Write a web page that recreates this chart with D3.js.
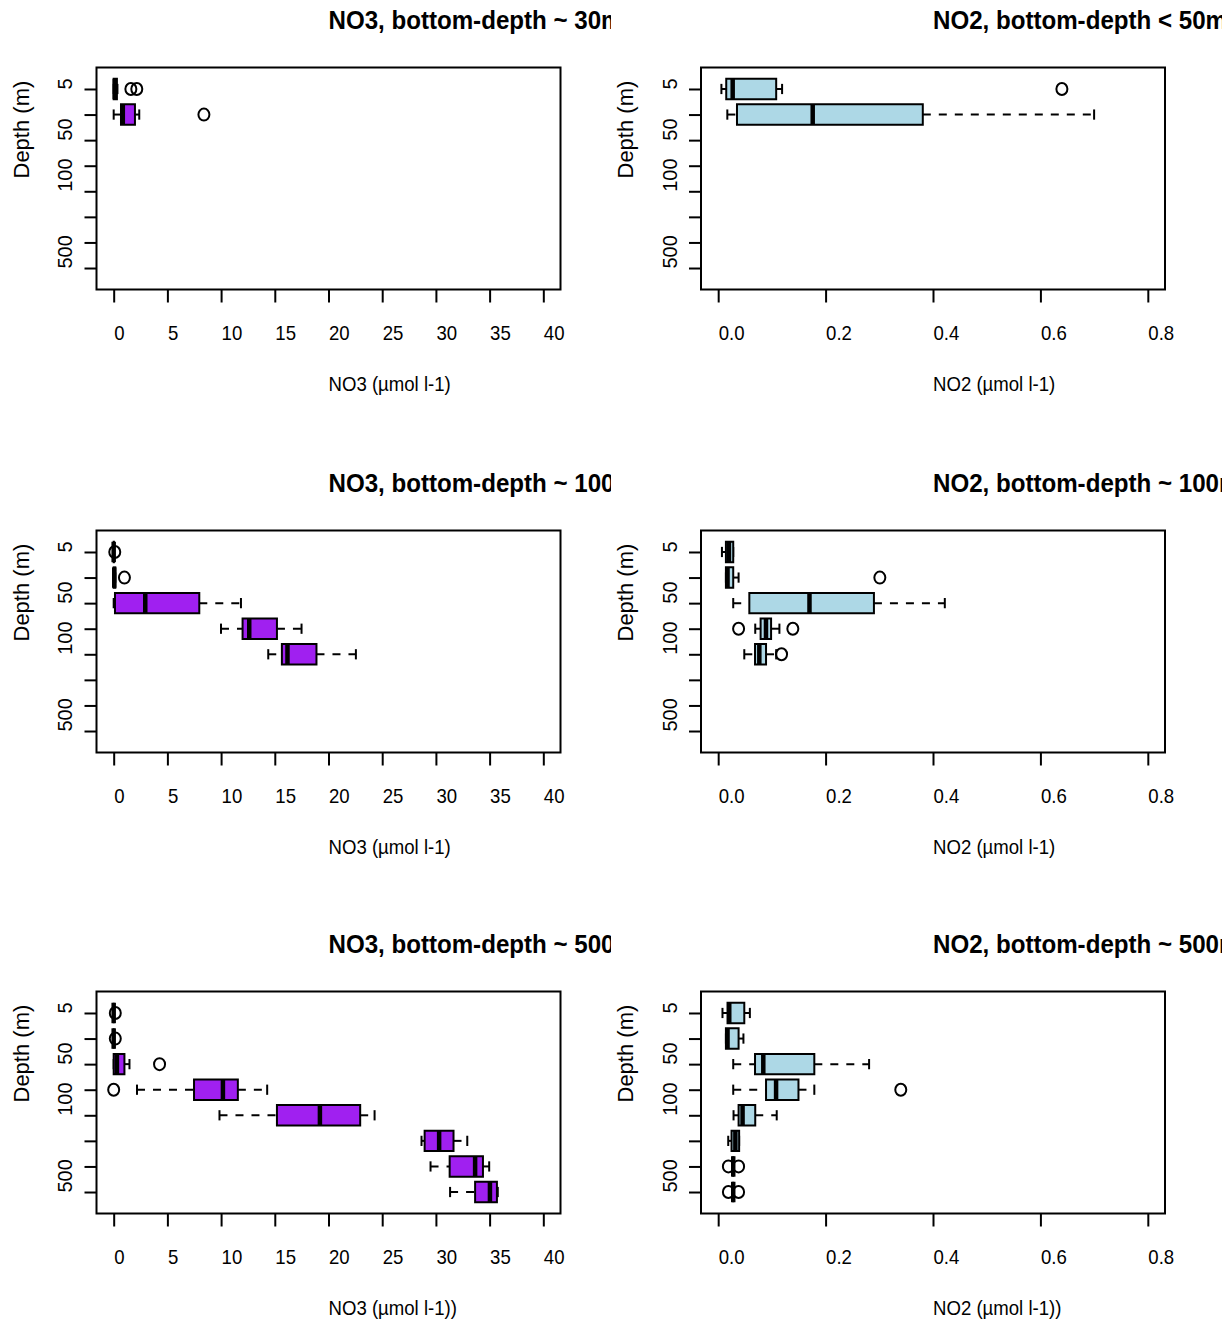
<!DOCTYPE html>
<html><head><meta charset="utf-8">
<script src="https://cdn.jsdelivr.net/npm/d3@7/dist/d3.min.js"></script>
<style>
html,body{margin:0;padding:0;background:#fff;}
text{font-family:"Liberation Sans",Arial,Helvetica,sans-serif;fill:#000;}
</style></head>
<body><svg id="c" width="1222" height="1320"></svg>
<script>
// ---------- data ----------
const depthPositions = [1,2,3,4,5,6,7,8];
const depthLabels = ["5","","50","","100","","","500"];
const no3Ticks = [0,5,10,15,20,25,30,35,40];
const no2Ticks = [0,0.2,0.4,0.6,0.8];
const no2TickLabels = ["0.0","0.2","0.4","0.6","0.8"];

// stats per depth group: [min, q1, median, q3, max]; null = no data
const no3_30 = [[0,0,0.1,0.3,0.35],[0,0.68,0.85,1.98,2.38],null,null,null,null,null,null];
const no3_30_out = [[1.6,2.15],[8.4],[],[],[],[],[],[]];
const no2_50 = [[0.006,0.015,0.027,0.108,0.119],[0.017,0.035,0.176,0.381,0.700],null,null,null,null,null,null];
const no2_50_out = [[0.64],[],[],[],[],[],[],[]];

const no3_100 = [[0,0,0,0.02,0.02],[0,0,0.05,0.15,0.15],[0,0.12,2.94,7.97,11.85],[9.99,12.0,12.62,15.2,17.49],[14.39,15.66,16.18,18.88,22.55],null,null,null];
const no3_100_out = [[0.1],[1.0],[],[],[],[],[],[]];
const no2_100 = [[0.007,0.0144,0.020,0.028,0.028],[0.0144,0.0144,0.0174,0.028,0.038],[0.028,0.058,0.170,0.290,0.422],[0.069,0.079,0.089,0.0985,0.114],[0.0486,0.0686,0.0766,0.0891,0.108],null,null,null];
const no2_100_out = [[],[0.301],[],[0.038,0.139],[0.118],[],[],[]];

const no3_500 = [[0,0,0,0,0],[0,0,0,0,0],[0,0,0.3,1.0,1.47],[2.17,7.48,10.17,11.56,14.29],[9.85,15.2,19.2,22.95,24.29],[28.66,28.95,30.3,31.64,32.92],[29.5,31.28,33.65,34.38,34.96],[31.32,33.65,35.03,35.68,35.76]];
const no3_500_out = [[0.15],[0.15],[4.27],[0],[],[],[],[]];
const no2_500 = [[0.008,0.0174,0.0206,0.0486,0.059],[0.0144,0.0144,0.0174,0.038,0.047],[0.028,0.0686,0.084,0.179,0.281],[0.028,0.0891,0.1078,0.1495,0.179],[0.0286,0.038,0.0454,0.069,0.109],[0.0187,0.0249,0.032,0.039,0.039],[0.028,0.028,0.028,0.028,0.028],[0.028,0.028,0.028,0.028,0.028]];
const no2_500_out = [[],[],[],[0.340],[],[],[0.019,0.038],[0.019,0.038]];

const titles = ["NO3, bottom-depth ~ 30m","NO2, bottom-depth < 50m","NO3, bottom-depth ~ 100m","NO2, bottom-depth ~ 100m","NO3, bottom-depth ~ 500m","NO2, bottom-depth ~ 500m"];
const xTitles = ["NO3 (µmol l-1)","NO2 (µmol l-1)","NO3 (µmol l-1)","NO2 (µmol l-1)","NO3 (µmol l-1))","NO2 (µmol l-1))"];
const no3Color = "#A020F0";
const no2Color = "#ADD8E6";

// ---------- layout ----------
const svg = d3.select("#c");
svg.append("rect").attr("width",1222).attr("height",1320).attr("fill","#fff");
svg.append("defs").append("clipPath").attr("id","leftclip")
  .append("rect").attr("x",0).attr("y",0).attr("width",611).attr("height",1320);

const colLeft = [96.5, 701];
const boxW = 464;
const rowTop = [67.5, 530.5, 991.5];
const boxH = 222;

const panels = [
  {stats:no3_30, out:no3_30_out, kind:"no3"},
  {stats:no2_50, out:no2_50_out, kind:"no2"},
  {stats:no3_100, out:no3_100_out, kind:"no3"},
  {stats:no2_100, out:no2_100_out, kind:"no2"},
  {stats:no3_500, out:no3_500_out, kind:"no3"},
  {stats:no2_500, out:no2_500_out, kind:"no2"}
];

panels.forEach((p,i)=>{
  const col = i%2, row = Math.floor(i/2);
  const L = colLeft[col], T = rowTop[row], R = L+boxW, B = T+boxH;
  const isNo3 = p.kind==="no3";
  const x = d3.scaleLinear().domain(isNo3?[-1.6,41.6]:[-0.032,0.832]).range([L,R]);
  const y = d3.scaleLinear().domain([0.16,8.84]).range([T,B]);
  const fill = isNo3?no3Color:no2Color;
  const g = svg.append("g");
  if(col===0) g.attr("clip-path","url(#leftclip)");

  // title (clipped at the column edge, as in the reference)
  g.append("text").attr("transform",`translate(${(L+R)/2},${T-38.5}) scale(0.965,1)`)
    .attr("font-size",25).attr("font-weight","bold").text(titles[i]);

  // x axis
  const xa = d3.axisBottom(x).tickValues(isNo3?no3Ticks:no2Ticks).tickSize(13).tickSizeOuter(0)
    .tickFormat((d,k)=> isNo3? String(d) : no2TickLabels[k]);
  const gx = g.append("g").attr("transform",`translate(0,${B})`).call(xa);
  gx.select(".domain").remove();
  gx.selectAll(".tick line").attr("stroke","#000").attr("stroke-width",2);
  gx.selectAll(".tick text").attr("y",50.5).attr("dy",null).attr("text-anchor","start")
    .attr("font-size",20).attr("font-family",null).attr("fill","#000").attr("transform","scale(0.93,1)");

  // y axis
  const ya = d3.axisLeft(y).tickValues(depthPositions).tickSize(12).tickSizeOuter(0)
    .tickFormat(d=>depthLabels[d-1]);
  const gy = g.append("g").attr("transform",`translate(${L},0)`).call(ya);
  gy.select(".domain").remove();
  gy.selectAll(".tick line").attr("stroke","#000").attr("stroke-width",2);
  gy.selectAll(".tick text").attr("x",0).attr("y",-24.3).attr("dy",null).attr("text-anchor","start")
    .attr("font-size",20).attr("font-family",null).attr("fill","#000").attr("transform","rotate(-90)");

  // axis titles
  g.append("text").attr("transform",`translate(${(L+R)/2},${T+323}) scale(0.93,1)`)
    .attr("font-size",20).text(xTitles[i]);
  g.append("text").attr("transform",`translate(${L-68},${(T+B)/2}) rotate(-90)`)
    .attr("font-size",22).text("Depth (m)");

  // boxes
  const bw = 0.4, sw = 0.2;
  p.stats.forEach((s,k)=>{
    if(!s) return;
    const pos = depthPositions[k];
    const gb = g.append("g");
    const yc = y(pos);
    gb.append("line").attr("x1",x(s[0])).attr("x2",x(s[1])).attr("y1",yc).attr("y2",yc)
      .attr("stroke","#000").attr("stroke-width",2).attr("stroke-dasharray","8,8");
    gb.append("line").attr("x1",x(s[3])).attr("x2",x(s[4])).attr("y1",yc).attr("y2",yc)
      .attr("stroke","#000").attr("stroke-width",2).attr("stroke-dasharray","8,8");
    [s[0],s[4]].forEach(v=>{
      gb.append("line").attr("x1",x(v)).attr("x2",x(v)).attr("y1",y(pos-sw)).attr("y2",y(pos+sw))
        .attr("stroke","#000").attr("stroke-width",2);
    });
    const x1=x(s[1]), x3=x(s[3]), y1=y(pos-bw), y2=y(pos+bw);
    gb.append("path").attr("d",`M${x1},${y1}H${x3}V${y2}H${x1}Z`)
      .attr("fill",fill).attr("stroke","#000").attr("stroke-width",2);
    gb.append("line").attr("x1",x(s[2])).attr("x2",x(s[2])).attr("y1",y1).attr("y2",y2)
      .attr("stroke","#000").attr("stroke-width",4.5);
    p.out[k].forEach(v=>{
      gb.append("ellipse").attr("cx",x(v)).attr("cy",yc).attr("rx",5.5).attr("ry",6)
        .attr("fill","none").attr("stroke","#000").attr("stroke-width",2);
    });
  });

  // frame
  g.append("rect").attr("x",L).attr("y",T).attr("width",boxW).attr("height",boxH)
    .attr("fill","none").attr("stroke","#000").attr("stroke-width",2);
});
</script></body></html>
